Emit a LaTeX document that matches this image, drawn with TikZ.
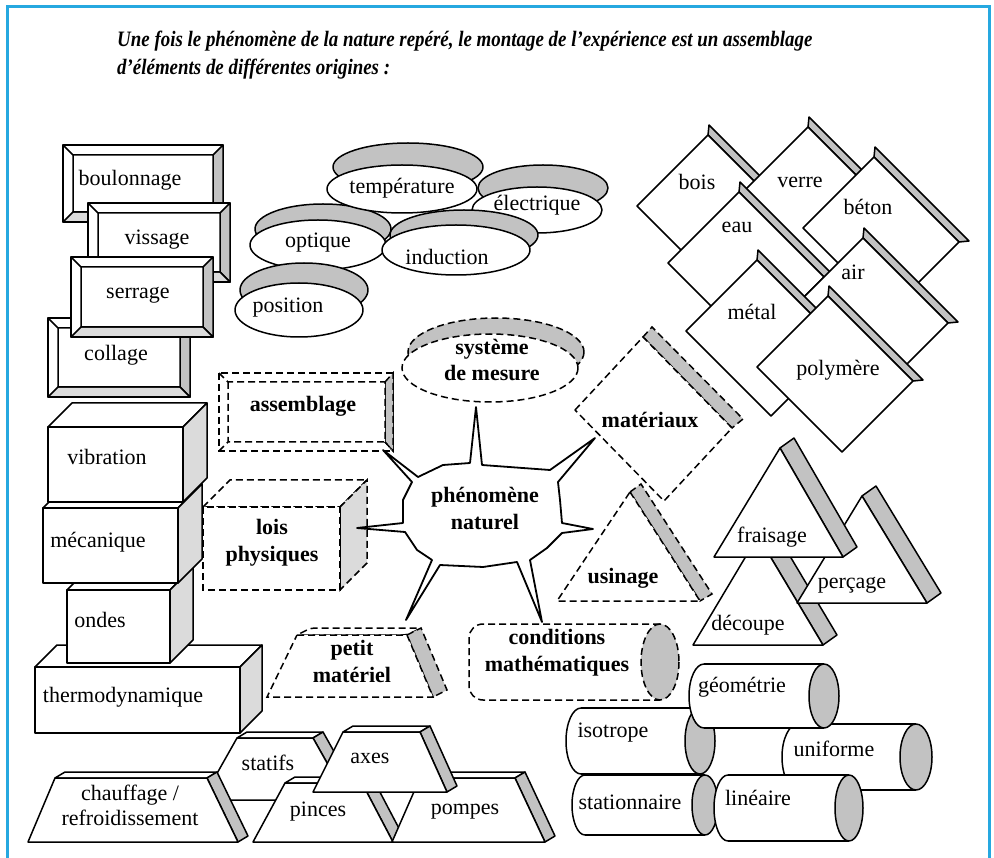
\documentclass[tikz,border=0pt]{standalone}
\usepackage{fontspec}
\setmainfont{Liberation Serif}
\definecolor{frameblue}{RGB}{38,168,224}
\definecolor{shade}{gray}{0.76}
\definecolor{lightshade}{gray}{0.86}
\tikzset{
    solidface/.style = {
        draw,
        fill=white,
        line width=1.5pt,
        line join=round
    },
    greyface/.style = {
        solidface,
        fill=shade
    },
    paleface/.style = {
        solidface,
        fill=lightshade
    },
    dashface/.style = {
        draw,
        fill=white,
        line width=1.5pt,
        dash pattern=on 7pt off 4pt
    },
    txt/.style = {
        font=\fontsize{22}{24}\selectfont,
        inner sep=0pt
    },
    btxt/.style = {
        font=\bfseries\fontsize{22}{27}\selectfont,
        align=center,
        inner sep=0pt
    },
}
\begin{document}
\begin{tikzpicture}[x=1pt, y=-1pt]
    \useasboundingbox (0,0) rectangle (994,858);
    \draw[frameblue, line width=3pt] (7,858) -- (7,7) -- (989,7) -- (989,858);
    \node[anchor=base west, align=left, inner sep=0pt,
          font=\bfseries\itshape\fontsize{22}{28}\selectfont] (title) at (117,75)
        {\scalebox{0.86}[1]{Une fois le phénomène de la nature repéré, le montage de l'expérience est un assemblage}\\
         \scalebox{0.86}[1]{d'éléments de différentes origines :}};

    \foreach \xa/\ya/\xb/\yb in {63/145/223/222, 88/203/230/282, 48/318/190/397, 71/257/213/337}
    {
        \filldraw[solidface] (\xa,\ya) rectangle (\xb,\yb);
        \filldraw[greyface] ({\xb-10},{\ya+10}) -- (\xb,\ya) -- (\xb,\yb) -- ({\xb-10},{\yb-10}) -- cycle;
        \filldraw[paleface] (\xa,\yb) -- ({\xa+10},{\yb-10}) -- ({\xb-10},{\yb-10}) -- (\xb,\yb) -- cycle;
        \draw[solidface] (\xa,\ya) -- ({\xa+10},{\ya+10}) rectangle ({\xb-10},{\yb-10});
    }
    \node[txt] (boulonnage) at (130,180) {boulonnage};
    \node[txt] (vissage) at (157,240) {vissage};
    \node[txt] (collage) at (116,355) {collage};
    \node[txt] (serrage) at (138,295) {serrage};

    \foreach \cx/\cy/\rx/\ry/\dx/\dy in {537/210/65/23/6/-22, 318/245/68/25/5/-16, 402/189/75/24/6/-22, 456/250/74/25/8/-15, 299/310/64/27/5/-20}
    {
        \filldraw[greyface] ({\cx+\dx},{\cy+\dy}) ellipse[x radius=\rx, y radius=\ry];
        \filldraw[solidface] (\cx,\cy) ellipse[x radius=\rx, y radius=\ry];
    }
    \node[txt] (electrique) at (537,205) {électrique};
    \node[txt] (optique) at (318,243) {optique};
    \node[txt] (temperature) at (402,188) {température};
    \node[txt] (induction) at (447,257) {induction};
    \node[txt] (position) at (288,308) {position};

    \foreach \lx/\ly in {637/206, 737/198, 668/263, 803/228, 792/309, 686/331, 757/367}
    {
        \filldraw[greyface] ({\lx+71},{\ly-71}) -- ({\lx+72},{\ly-81}) -- ({\lx+166},{\ly+13}) -- ({\lx+156},{\ly+14}) -- cycle;
        \filldraw[solidface] (\lx,\ly) -- ({\lx+71},{\ly-71}) -- ({\lx+156},{\ly+14}) -- ({\lx+85},{\ly+85}) -- cycle;
    }
    \node[txt] (bois) at (697,182) {bois};
    \node[txt] (verre) at (800,182) {verre};
    \node[txt] (eau) at (737,227) {eau};
    \node[txt] (beton) at (868,207) {béton};
    \node[txt] (air) at (853,272) {air};
    \node[txt] (metal) at (752,312) {métal};
    \node[txt] (polymere) at (838,370) {polymère};

    \foreach \xa/\ya/\xb/\yb/\d in {35/667/240/733/22, 67/590/170/663/23, 43/508/178/583/24, 48/427/183/502/24}
    {
        \filldraw[solidface] (\xa,\ya) -- ({\xa+\d},{\ya-\d}) -- ({\xb+\d},{\ya-\d}) -- (\xb,\ya) -- cycle;
        \filldraw[paleface] (\xb,\ya) -- ({\xb+\d},{\ya-\d}) -- ({\xb+\d},{\yb-\d}) -- (\xb,\yb) -- cycle;
        \filldraw[solidface] (\xa,\ya) rectangle (\xb,\yb);
    }
    \node[txt] (thermo) at (123,697) {thermodynamique};
    \node[txt] (ondes) at (100,620) {ondes};
    \node[txt] (mecanique) at (98,542) {mécanique};
    \node[txt] (vibration) at (107,457) {vibration};

    \filldraw[dashface] (219,373) rectangle (393,451);
    \filldraw[dashface, fill=shade] (385,382) -- (393,373) -- (393,451) -- (385,442) -- cycle;
    \draw[dashface] (219,373) -- (228,382) rectangle (385,442) -- (393,451);
    \draw[dashface] (219,451) -- (228,442);
    \node[btxt] (assemblage) at (303,406) {assemblage};

    \filldraw[dashface, fill=shade] (496,352) ellipse[x radius=88, y radius=34];
    \filldraw[dashface] (490,368) ellipse[x radius=88, y radius=34];
    \node[btxt, font=\bfseries\fontsize{22}{26}\selectfont] (systeme) at (492,360) {système\\de mesure};

    \filldraw[dashface] (203,507) -- (230,480) -- (367,480) -- (340,507) -- cycle;
    \filldraw[dashface, fill=lightshade] (340,507) -- (367,480) -- (367,563) -- (340,590) -- cycle;
    \filldraw[dashface] (203,507) rectangle (340,590);
    \node[btxt] (lois) at (272,543) {lois\\physiques};

    \filldraw[dashface, fill=shade] (643,337) -- (652,327) -- (743,419) -- (732,428) -- cycle;
    \filldraw[dashface] (575,410) -- (643,337) -- (732,428) -- (664,501) -- cycle;
    \node[btxt] (materiaux) at (650,420) {matériaux};

    \filldraw[dashface, fill=shade] (630,492) -- (641,484) -- (712,594) -- (700,601) -- cycle;
    \filldraw[dashface] (630,492) -- (700,601) -- (557,601) -- cycle;
    \node[btxt] (usinage) at (623,578) {usinage};

    \filldraw[dashface, rounded corners=4pt] (297,635) -- (311,628) -- (421,628) -- (407,635) -- cycle;
    \filldraw[dashface, fill=shade] (407,635) -- (421,628) -- (447,690) -- (433,697) -- cycle;
    \filldraw[dashface] (297,635) -- (407,635) -- (433,697) -- (267,697) -- cycle;
    \node[btxt] (petitmat) at (352,661) {petit\\matériel};

    \filldraw[dashface, rounded corners=14pt] (660,624) -- (469,624) -- (469,700) -- (660,700);
    \filldraw[dashface, fill=shade] (660,662) ellipse[x radius=19, y radius=38];
    \node[btxt] (conditions) at (557,653) {conditions\\mathématiques};

    \filldraw[solidface, line width=1.8pt] (470,463) -- (476,407) -- (482,465) -- (550,470) -- (595,438)
        -- (558,482) -- (560,500) -- (562,523) -- (593,529) -- (562,533) -- (547,548) -- (530,560)
        -- (542,622) -- (517,562) -- (483,567) -- (440,565) -- (406,620) -- (432,560) -- (417,550)
        -- (405,532) -- (357,528) -- (403,523) -- (403,500) -- (412,482) -- (383,450) -- (418,477)
        -- (443,465) -- cycle;
    \node[btxt] (phenomene) at (485,508) {phénomène\\naturel};

    \foreach \ax/\ay/\bx/\by/\cx in {758/536/693/645/823, 862/496/797/603/927, 780/448/714/557/843}
    {
        \filldraw[greyface] (\ax,\ay) -- ({\ax+14},{\ay-10}) -- ({\cx+14},{\by-10}) -- (\cx,\by) -- cycle;
        \filldraw[solidface] (\ax,\ay) -- (\cx,\by) -- (\bx,\by) -- cycle;
    }
    \node[txt] (decoupe) at (748,625) {découpe};
    \node[txt] (percage) at (852,585) {perçage};
    \node[txt] (fraisage) at (772,537) {fraisage};

    \foreach \px/\qx/\cy/\ry/\ex in {916/782/757/33/16, 700/566/741/33/15, 824/689/696/32/15, 705/572/805/30/13, 849/714/808/33/14}
    {
        \filldraw[solidface] ({\qx+\ex},\cy) ellipse[x radius=\ex, y radius=\ry];
        \fill[white] ({\qx+\ex},{\cy-\ry}) rectangle (\px,{\cy+\ry});
        \draw[solidface] ({\qx+\ex},{\cy-\ry}) -- (\px,{\cy-\ry});
        \draw[solidface] ({\qx+\ex},{\cy+\ry}) -- (\px,{\cy+\ry});
        \filldraw[greyface] (\px,\cy) ellipse[x radius=\ex, y radius=\ry];
    }
    \node[txt] (uniforme) at (834,749) {uniforme};
    \node[txt] (isotrope) at (613,733) {isotrope};
    \node[txt] (geometrie) at (742,687) {géométrie};
    \node[txt] (stationnaire) at (630,802) {stationnaire};
    \node[txt] (lineaire) at (758,798) {linéaire};

    \foreach \ty/\by/\tl/\tr/\br/\bl in {738/800/237/313/348/202, 778/842/55/207/238/28, 783/842/285/362/393/253, 778/842/420/515/545/392, 732/792/343/420/447/313}
    {
        \filldraw[solidface] (\tl,\ty) -- ({\tl+10},{\ty-6}) -- ({\tr+10},{\ty-6}) -- (\tr,\ty) -- cycle;
        \filldraw[greyface] (\tr,\ty) -- ({\tr+10},{\ty-6}) -- ({\br+10},{\by-6}) -- (\br,\by) -- cycle;
        \filldraw[solidface] (\tl,\ty) -- (\tr,\ty) -- (\br,\by) -- (\bl,\by) -- cycle;
    }
    \node[txt] (statifs) at (268,763) {statifs};
    \node[txt, align=center, font=\fontsize{22}{25}\selectfont] (chauffage) at (130,805) {chauffage /\\refroidissement};
    \node[txt] (pinces) at (318,812) {pinces};
    \node[txt] (pompes) at (465,812) {pompes};
    \node[txt] (axes) at (370,758) {axes};
\end{tikzpicture}
\end{document}
